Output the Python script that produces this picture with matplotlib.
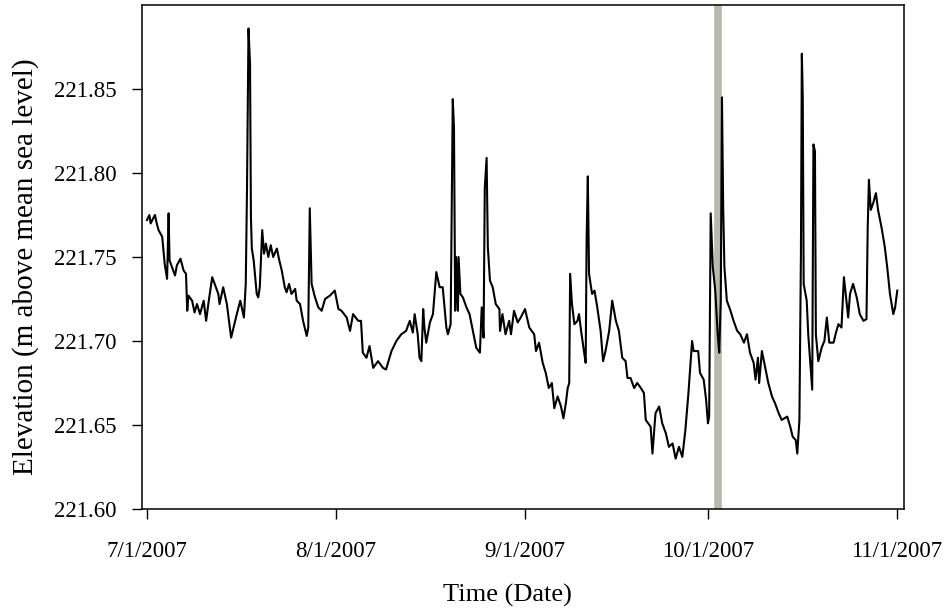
import numpy as np
import pandas as pd
import matplotlib
matplotlib.use("Agg")
import matplotlib.pyplot as plt
import matplotlib.dates as mdates

plt.rcParams['font.family'] = ['Liberation Serif', 'DejaVu Serif']

# days after 7/1/2007 and water surface elevation (m above mean sea level)
start = pd.Timestamp("2007-07-01")
days = [0.0, 0.4, 0.6, 1.3, 1.6, 1.9, 2.5, 2.9, 3.3, 3.55, 3.7, 4.1, 4.6, 4.9, 5.5,
        6.0, 6.4, 6.6, 6.8, 7.4, 7.8, 8.2, 8.7, 9.3, 9.7, 10.1, 10.7, 11.2, 11.7, 11.9,
        12.5, 13.1, 13.8, 14.2, 14.8, 15.3, 15.9, 16.2, 16.4, 16.65, 16.9, 17.05, 17.2,
        17.5, 18.0, 18.25, 18.5, 18.9, 19.2, 19.5, 19.9, 20.3, 20.7, 21.3, 21.7, 22.1,
        22.6, 22.9, 23.3, 23.7, 24.3, 24.55, 25.1, 25.6, 26.2, 26.45, 26.7, 27.0, 27.55,
        28.1, 28.65, 29.2, 30.0, 30.8, 31.4, 31.9, 32.75, 33.3, 33.8, 34.65, 35.1, 35.4,
        36.0, 36.5, 37.1, 37.9, 38.7, 39.2, 40.1, 40.9, 41.7, 42.5, 43.1, 43.6, 43.9,
        44.4, 44.7, 45.0, 45.3, 45.5, 45.8, 46.4, 46.9, 47.45, 47.7, 48.0, 48.5, 49.1,
        49.35, 49.8, 50.15, 50.35, 50.55, 50.7, 51.0, 51.1, 51.4, 51.8, 52.4, 52.9, 53.4,
        54.0, 54.6, 54.9, 55.2, 55.4, 55.7, 55.9, 56.25, 56.7, 57.2, 57.8, 57.9, 58.3,
        58.8, 59.4, 59.7, 60.2, 60.8, 61.3, 62.0, 62.7, 63.5, 63.8, 64.3, 64.9, 65.4,
        65.9, 66.4, 66.8, 67.35, 67.9, 68.3, 68.7, 69.0, 69.25, 69.4, 69.7, 70.1, 70.6,
        70.85, 71.2, 71.7, 71.95, 72.1, 72.3, 72.5, 73.0, 73.4, 73.85, 74.4, 74.8, 75.2,
        75.8, 76.3, 76.9, 77.4, 77.95, 78.5, 78.8, 79.3, 79.9, 80.4, 81.0, 81.5, 81.8,
        82.6, 82.9, 83.4, 84.0, 84.5, 85.1, 85.6, 86.2, 86.7, 87.25, 87.8, 88.3, 88.8,
        89.4, 89.65, 90.4, 90.7, 91.3, 91.7, 92.0, 92.2, 92.45, 92.8, 93.2, 93.6, 93.85,
        94.1, 94.3, 94.5, 94.7, 95.1, 95.7, 96.2, 96.8, 97.3, 97.9, 98.4, 98.9, 99.5,
        99.8, 100.2, 100.4, 100.85, 101.4, 101.9, 102.5, 103.0, 103.6, 104.1, 105.0,
        105.5, 105.9, 106.4, 106.65, 107.0, 107.25, 107.4, 107.55, 107.7, 108.2, 108.45,
        108.85, 109.1, 109.3, 109.55, 109.7, 110.1, 110.65, 111.1, 111.5, 111.9, 112.6,
        113.0, 113.4, 113.9, 114.3, 115.0, 115.3, 115.8, 116.4, 116.9, 117.5, 118.0,
        118.2, 118.4, 118.7, 119.1, 119.55, 119.9, 120.5, 121.0, 121.4, 121.85, 122.4,
        122.7, 123.05]
elev = [221.772, 221.775, 221.770, 221.775, 221.770, 221.766, 221.762, 221.746, 221.737,
        221.776, 221.748, 221.744, 221.739, 221.745, 221.749, 221.742, 221.740, 221.718,
        221.727, 221.724, 221.717, 221.722, 221.716, 221.724, 221.712, 221.723, 221.738,
        221.733, 221.728, 221.722, 221.732, 221.722, 221.702, 221.708, 221.717, 221.724,
        221.714, 221.734, 221.789, 221.886, 221.865, 221.773, 221.755,
        221.748, 221.728, 221.726, 221.732, 221.766, 221.752, 221.758, 221.750, 221.757,
        221.750, 221.755, 221.748, 221.742, 221.732, 221.729, 221.734, 221.728, 221.731,
        221.724, 221.722, 221.712, 221.703, 221.708, 221.779, 221.734, 221.726, 221.720,
        221.718, 221.725, 221.727, 221.730, 221.719, 221.718, 221.714, 221.706, 221.716,
        221.712, 221.712, 221.693, 221.690, 221.697, 221.684, 221.688, 221.684, 221.683,
        221.694, 221.700, 221.704, 221.706, 221.712, 221.705, 221.716, 221.704, 221.690,
        221.688, 221.719, 221.708, 221.699, 221.711, 221.716, 221.741, 221.737, 221.732,
        221.732, 221.708, 221.704, 221.710, 221.844, 221.827, 221.718, 221.750, 221.718,
        221.750, 221.728, 221.726, 221.720, 221.716, 221.707, 221.696, 221.693, 221.720,
        221.702, 221.791, 221.809, 221.756, 221.736, 221.732, 221.722, 221.719, 221.706,
        221.716, 221.704, 221.712, 221.704, 221.718, 221.711, 221.714, 221.719, 221.708,
        221.704, 221.694, 221.699, 221.687, 221.681, 221.672, 221.675, 221.660, 221.667,
        221.661, 221.654, 221.663, 221.672, 221.675, 221.740, 221.722, 221.710, 221.712,
        221.716, 221.706, 221.693, 221.687, 221.760, 221.798, 221.740, 221.728, 221.730,
        221.720, 221.706, 221.688, 221.694, 221.706, 221.724, 221.712, 221.706, 221.690,
        221.688, 221.678, 221.678, 221.672, 221.675, 221.672, 221.669, 221.653, 221.649,
        221.633, 221.657, 221.661, 221.651, 221.645, 221.637, 221.639, 221.630, 221.637,
        221.631, 221.647, 221.669, 221.700, 221.694, 221.694, 221.681, 221.677, 221.665,
        221.651, 221.655, 221.776, 221.744, 221.730, 221.704, 221.693, 221.724, 221.845,
        221.779, 221.744, 221.724, 221.718, 221.712, 221.706, 221.704, 221.699, 221.704,
        221.693, 221.687, 221.677, 221.690, 221.675, 221.694, 221.684, 221.675, 221.667,
        221.663, 221.657, 221.653, 221.655, 221.649, 221.643, 221.641, 221.633, 221.653,
        221.752, 221.871, 221.845, 221.734, 221.724, 221.704, 221.684, 221.671, 221.817,
        221.813, 221.704, 221.688, 221.696, 221.700, 221.714, 221.699, 221.699, 221.705,
        221.710, 221.708, 221.738, 221.714, 221.728, 221.734, 221.726, 221.716, 221.712,
        221.713, 221.767, 221.796, 221.778, 221.782, 221.788, 221.778, 221.767, 221.756,
        221.744, 221.728, 221.716, 221.720, 221.730]

event_day = 93.6
tick_dates = ["2007-07-01", "2007-08-01", "2007-09-01", "2007-10-01", "2007-11-01"]
tick_labels = ["7/1/2007", "8/1/2007", "9/1/2007", "10/1/2007", "11/1/2007"]
yticks = [221.60, 221.65, 221.70, 221.75, 221.80, 221.85]

t = start + pd.to_timedelta(days, unit="D")

fig = plt.figure(figsize=(9.44, 6.10), dpi=100)
ax = fig.add_axes([0.1504, 0.1656, 0.8072, 0.8262])

ax.axvline(start + pd.Timedelta(days=event_day), color="#b9b9ab", lw=5.5, zorder=1)
ax.plot(t, elev, color="black", lw=1.5, zorder=2)

ax.set_xlim(start - pd.Timedelta(days=0.82), start + pd.Timedelta(days=124.15))
ax.set_ylim(221.60, 221.90)
ax.set_xticks(pd.to_datetime(tick_dates))
ax.set_xticklabels(tick_labels)
ax.set_yticks(yticks)
ax.set_yticklabels(["%.2f" % v for v in yticks])

ax.tick_params(axis="both", direction="out", length=7, width=1, labelsize=16.5)
ax.tick_params(axis="x", pad=16)
ax.tick_params(axis="y", pad=11)
for s in ax.spines.values():
    s.set_linewidth(1.1)

ax.set_xlabel("Time (Date)", fontsize=19)
ax.set_ylabel("Elevation (m above mean sea level)", fontsize=21)
ax.xaxis.set_label_coords(0.48, -0.148)
ax.yaxis.set_label_coords(-0.135, 0.48)

fig.savefig("out.png", dpi=100)
